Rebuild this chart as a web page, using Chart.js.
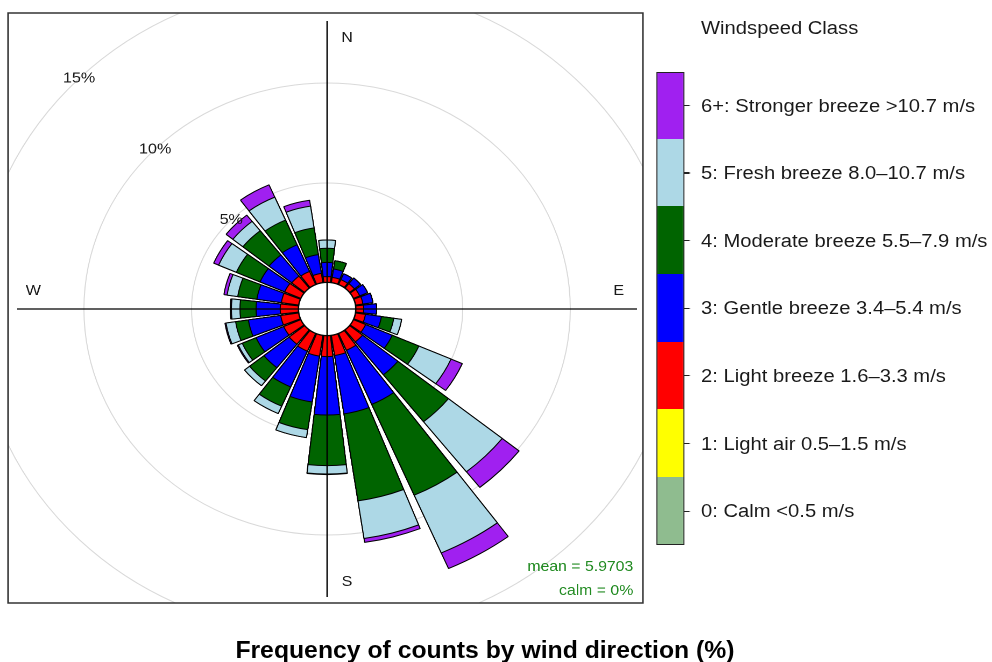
<!DOCTYPE html>
<html>
<head>
<meta charset="utf-8">
<script src="https://cdn.jsdelivr.net/npm/chart.js@4.4.1/dist/chart.umd.min.js"></script>
<style>
  html, body { margin: 0; padding: 0; background: #fff; overflow: hidden; }
  body { width: 992px; height: 662px; font-family: 'Liberation Sans', Arial, sans-serif; color: #1a1a1a; }
  /* the whole figure is a little wider than tall, so stretch it like the original */
  #stage { position: absolute; left: 0; top: 0; width: 922px; height: 662px; transform: scaleX(1.076); transform-origin: 0 0; }
  #rose { position: absolute; left: -16px; top: -11px; }
  .key-title { position: absolute; left: 651.5px; top: 17px; font-size: 18.8px; line-height: 22px; white-space: nowrap; }
  #key-bar { position: absolute; left: 610px; top: 71.5px; width: 25.7px; height: 473.5px; border: 1.4px solid #222; box-sizing: border-box; }
  .key-seg { position: absolute; left: 0; right: 0; }
  .key-tick { position: absolute; left: 635.7px; width: 5.6px; height: 1.2px; background: #222; }
  .key-label { position: absolute; left: 651.5px; font-size: 18.8px; line-height: 22px; white-space: nowrap; }
  .fig-title { position: absolute; left: 150.7px; width: 600px; top: 637px; text-align: center; font-weight: bold; font-size: 23px; line-height: 26px; color: #000; }
</style>
</head>
<body>
<div id="stage">
  <canvas id="rose" width="640" height="640"></canvas>
  <div class="key-title">Windspeed Class</div>
  <div id="key-bar"></div>
  <div class="fig-title">Frequency of counts by wind direction (%)</div>
</div>
<script>
// wind direction bins (degrees, centre of each 15° sector)
const directions = [0, 15, 30, 45, 60, 75, 90, 105, 120, 135, 150, 165, 180, 195, 210, 225, 240, 255, 270, 285, 300, 315, 330, 345];

// frequency of counts (%) per speed class, one value per direction
const calm =           [0, 0, 0, 0, 0, 0, 0, 0, 0, 0, 0, 0, 0, 0, 0, 0, 0, 0, 0, 0, 0, 0, 0, 0];
const lightAir =       [0.04, 0.04, 0.04, 0.04, 0.04, 0.04, 0.04, 0.04, 0.04, 0.04, 0.04, 0.04, 0.04, 0.04, 0.04, 0.04, 0.04, 0.04, 0.04, 0.04, 0.04, 0.04, 0.04, 0.04];
const lightBreeze =    [0.28, 0.26, 0.26, 0.28, 0.31, 0.34, 0.36, 0.46, 0.61, 0.76, 0.91, 1.01, 1.04, 1.04, 0.96, 0.91, 0.86, 0.84, 0.84, 0.81, 0.81, 0.76, 0.71, 0.46];
const gentleBreeze =   [0.71, 0.42, 0.32, 0.36, 0.40, 0.47, 0.60, 0.75, 1.35, 2.10, 2.95, 2.95, 2.92, 2.32, 1.95, 1.50, 1.40, 1.52, 1.12, 1.15, 1.25, 1.35, 1.45, 0.95];
const moderateBreeze = [0.71, 0.42, 0, 0, 0, 0, 0, 0.58, 1.35, 3.00, 4.95, 4.40, 2.53, 1.40, 1.05, 0.85, 0.70, 0.60, 0.75, 0.90, 1.20, 1.55, 1.35, 1.35];
const freshBreeze =    [0.41, 0, 0, 0, 0, 0, 0, 0.37, 1.63, 3.20, 3.15, 1.90, 0.42, 0.40, 0.40, 0.30, 0.20, 0.45, 0.40, 0.50, 0.90, 0.60, 1.25, 1.10];
const strongBreeze =   [0, 0, 0, 0, 0, 0, 0, 0, 0.57, 1.00, 0.85, 0.20, 0.03, 0, 0, 0, 0.05, 0.05, 0.05, 0.15, 0.25, 0.40, 0.67, 0.30];

const classLabels = [
  '0: Calm <0.5 m/s',
  '1: Light air 0.5–1.5 m/s',
  '2: Light breeze 1.6–3.3 m/s',
  '3: Gentle breeze 3.4–5.4 m/s',
  '4: Moderate breeze 5.5–7.9 m/s',
  '5: Fresh breeze 8.0–10.7 m/s',
  '6+: Stronger breeze >10.7 m/s',
];
const classColours = ['#8FBC8F', '#FFFF00', '#FF0000', '#0000FF', '#006400', '#ADD8E6', '#A020F0'];

const gridValues = [5, 10, 15];
const meanText = 'mean = 5.9703';
const calmText = 'calm = 0%';

// radial axis: the 0 % ring sits a little off the centre (openair "offset")
const rMin = -1.3;
const rMax = 14.7;
const wedgeAngle = 13;
const gapAngle = 2;

(function () {
  const classes = [calm, lightAir, lightBreeze, gentleBreeze, moderateBreeze, freshBreeze, strongBreeze];

  // cumulative outer edge of each class in each sector
  const cumulative = classes.map((_, k) => directions.map((d, i) => {
    let total = 0;
    for (let j = 0; j <= k; j++) total += classes[j][i];
    return total;
  }));

  // each sector is followed by a thin empty gap slice
  const labels = [];
  directions.forEach((d) => { labels.push(d + '°'); labels.push(''); });

  const datasets = cumulative.map((vals, k) => {
    const data = [];
    vals.forEach((v) => { data.push(v); data.push(0); });
    return {
      label: classLabels[k],
      data,
      backgroundColor: (c) => (c.dataIndex % 2 ? 'rgba(0,0,0,0)' : classColours[k]),
      borderColor: '#000',
      borderWidth: (c) => (c.dataIndex % 2 ? 0 : 1),
      angle: (c) => (c.dataIndex % 2 ? gapAngle : wedgeAngle),
    };
  });

  // ── Colour key ─────────────────────────────────────────────────────────
  const stage = document.getElementById('stage');
  const bar = document.getElementById('key-bar');
  const barTop = 71.5;
  const segH = 473.5 / classLabels.length;
  for (let i = 0; i < classLabels.length; i++) {
    const k = classLabels.length - 1 - i;
    const seg = document.createElement('div');
    seg.className = 'key-seg';
    seg.style.top = (i * segH - 1.4) + 'px';
    seg.style.height = segH + 'px';
    seg.style.background = classColours[k];
    bar.appendChild(seg);

    const mid = barTop + (i + 0.5) * segH;
    const tick = document.createElement('div');
    tick.className = 'key-tick';
    tick.style.top = (mid - 0.6) + 'px';
    stage.appendChild(tick);

    const lab = document.createElement('div');
    lab.className = 'key-label';
    lab.style.top = (mid - 10.8) + 'px';
    lab.textContent = classLabels[k];
    stage.appendChild(lab);
  }
  bar.style.overflow = 'hidden';

  // ── Frame, axes and annotations drawn around the rose ─────────────────
  const roseFrame = {
    id: 'roseFrame',
    beforeDraw(chart) {
      const s = chart.scales.r;
      const ctx = chart.ctx;
      ctx.save();
      ctx.beginPath();
      ctx.rect(s.xCenter - 296.5, s.yCenter - 296, 590, 590);
      ctx.clip();
    },
    beforeDatasetsDraw(chart) {
      chart.ctx.restore();
    },
    afterDatasetsDraw(chart) {
      const s = chart.scales.r;
      const ctx = chart.ctx;
      const cx = s.xCenter;
      const cy = s.yCenter;
      ctx.save();

      // empty centre
      ctx.fillStyle = '#fff';
      ctx.beginPath();
      ctx.arc(cx, cy, s.getDistanceFromCenterForValue(0), 0, Math.PI * 2);
      ctx.fill();

      // N-S / E-W axes
      ctx.strokeStyle = '#000';
      ctx.lineWidth = 1.3;
      ctx.beginPath();
      ctx.moveTo(cx, cy - 288);
      ctx.lineTo(cx, cy + 288);
      ctx.moveTo(cx - 288, cy);
      ctx.lineTo(cx + 288, cy);
      ctx.stroke();

      // panel box
      ctx.strokeStyle = '#333';
      ctx.lineWidth = 1.5;
      ctx.strokeRect(cx - 296.5, cy - 296, 590, 590);

      ctx.fillStyle = '#1a1a1a';
      ctx.font = '15px "Liberation Sans", Arial, sans-serif';
      ctx.textAlign = 'center';
      ctx.textBaseline = 'middle';
      ctx.fillText('N', cx + 18.5, cy - 271);
      ctx.fillText('S', cx + 18.5, cy + 273);
      ctx.fillText('E', cx + 271, cy - 18);
      ctx.fillText('W', cx - 273, cy - 18);

      // ring labels along the NW diagonal
      gridValues.forEach((v) => {
        const r = s.getDistanceFromCenterForValue(v);
        ctx.fillText(v + '%', cx - r * Math.SQRT1_2, cy - r * Math.SQRT1_2);
      });

      ctx.fillStyle = '#228B22';
      ctx.font = '14.7px "Liberation Sans", Arial, sans-serif';
      ctx.textAlign = 'right';
      ctx.fillText(meanText, cx + 284.5, cy + 258);
      ctx.fillText(calmText, cx + 284.5, cy + 282);

      ctx.restore();
    },
  };

  new Chart(document.getElementById('rose').getContext('2d'), {
    type: 'polarArea',
    data: { labels, datasets },
    options: {
      responsive: false,
      devicePixelRatio: 2,
      animation: false,
      events: [],
      layout: { padding: 0 },
      plugins: { legend: { display: false }, tooltip: { enabled: false } },
      scales: {
        r: {
          min: rMin,
          max: rMax,
          startAngle: -wedgeAngle / 2,
          ticks: { display: false },
          pointLabels: { display: false },
          angleLines: { display: false },
          grid: {
            circular: true,
            lineWidth: 1,
            color: (c) => (c.tick && c.tick.value > 0 ? '#d9d9d9' : 'rgba(0,0,0,0)'),
          },
          afterBuildTicks: (scale) => {
            scale.ticks = [0].concat(gridValues).map((v) => ({ value: v }));
          },
        },
      },
    },
    plugins: [roseFrame],
  });
})();
</script>
</body>
</html>
